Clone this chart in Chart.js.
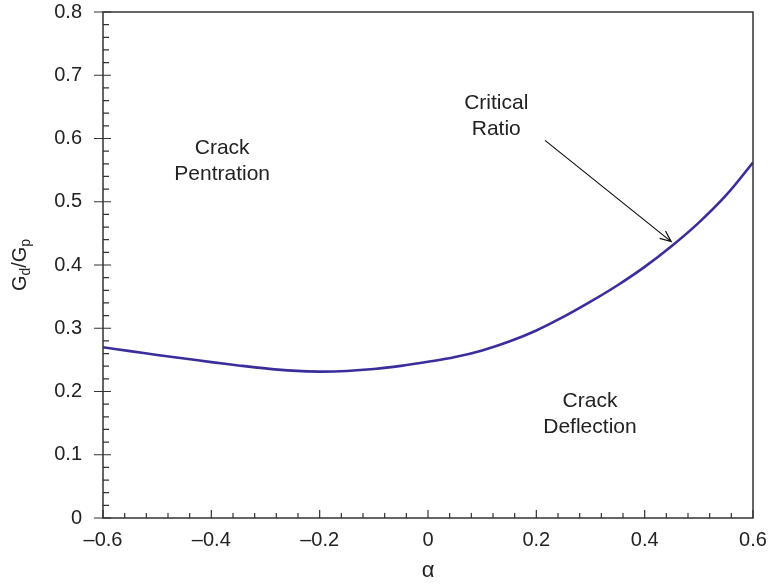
<!DOCTYPE html>
<html>
<head>
<meta charset="utf-8">
<script src="https://cdn.jsdelivr.net/npm/chart.js@4.4.1/dist/chart.umd.min.js"></script>
<style>
    html, body { margin: 0; padding: 0; background: #fff; }
    #wrap { width: 769px; height: 584px; }
</style>
</head>
<body>
<div id="wrap"><canvas id="ratioChart" width="769" height="584"></canvas></div>
<script>
// critical energy release rate ratio vs Dundurs alpha
const alphaValues = [-0.6, -0.55, -0.5, -0.45, -0.4, -0.35, -0.3, -0.25, -0.2, -0.15, -0.1, -0.05,
    0, 0.05, 0.1, 0.15, 0.2, 0.25, 0.3, 0.35, 0.4, 0.45, 0.5, 0.55, 0.6];
const ratioValues = [0.270, 0.2638, 0.2578, 0.2522, 0.2465, 0.2412, 0.2365, 0.2330, 0.2315, 0.2325, 0.2355, 0.2405,
    0.2470, 0.2545, 0.2650, 0.2790, 0.2965, 0.318, 0.342, 0.368, 0.397, 0.430, 0.467, 0.510, 0.562];

const xMinorTicks = [-0.56, -0.52, -0.48, -0.44, -0.36, -0.32, -0.28, -0.24, -0.16, -0.12, -0.08, -0.04,
    0.04, 0.08, 0.12, 0.16, 0.24, 0.28, 0.32, 0.36, 0.44, 0.48, 0.52, 0.56];
const yMinorTicks = [0.02, 0.04, 0.06, 0.08, 0.12, 0.14, 0.16, 0.18, 0.22, 0.24, 0.26, 0.28,
    0.32, 0.34, 0.36, 0.38, 0.42, 0.44, 0.46, 0.48, 0.52, 0.54, 0.56, 0.58,
    0.62, 0.64, 0.66, 0.68, 0.72, 0.74, 0.76, 0.78];

// region labels, in data coordinates
const notes = [
    {lines: ['Crack', 'Pentration'], x: -0.38, y: 0.585},
    {lines: ['Critical', 'Ratio'], x: 0.126, y: 0.656},
    {lines: ['Crack', 'Deflection'], x: 0.299, y: 0.185}
];
const arrowFrom = {x: 0.216, y: 0.597};
const arrowTo = {x: 0.449, y: 0.437};

const FONT = '"Liberation Sans", Arial, Helvetica, sans-serif';
const AXIS_COLOR = '#333333';

function fmtTick(v) {
    if (Math.abs(v) < 1e-9) return '0';
    let s = Math.abs(v).toFixed(1);
    return v < 0 ? '\u2013' + s : s;
}

const decorPlugin = {
    id: 'decor',
    afterDatasetsDraw(chart) {
        const {ctx, chartArea: a, scales: {x, y}} = chart;
        ctx.save();

        // frame
        ctx.strokeStyle = AXIS_COLOR;
        ctx.lineWidth = 1.5;
        ctx.strokeRect(a.left, a.top, a.right - a.left, a.bottom - a.top);

        ctx.lineWidth = 1.2;
        ctx.beginPath();
        // x major + minor ticks (inside only)
        x.ticks.forEach(t => {
            let px = x.getPixelForValue(t.value);
            ctx.moveTo(px, a.bottom);
            ctx.lineTo(px, a.bottom - 8);
        });
        xMinorTicks.forEach(v => {
            let px = x.getPixelForValue(v);
            ctx.moveTo(px, a.bottom);
            ctx.lineTo(px, a.bottom - 5);
        });
        // y major ticks (cross the axis) + minor (inside)
        y.ticks.forEach(t => {
            let py = y.getPixelForValue(t.value);
            ctx.moveTo(a.left - 9, py);
            ctx.lineTo(a.left + 8, py);
        });
        yMinorTicks.forEach(v => {
            let py = y.getPixelForValue(v);
            ctx.moveTo(a.left, py);
            ctx.lineTo(a.left + 6, py);
        });
        ctx.stroke();

        // notes
        ctx.fillStyle = '#222';
        ctx.font = '21px ' + FONT;
        ctx.textAlign = 'center';
        ctx.textBaseline = 'middle';
        notes.forEach(n => {
            let px = x.getPixelForValue(n.x);
            let py = y.getPixelForValue(n.y);
            n.lines.forEach((line, i) => ctx.fillText(line, px, py + i * 26));
        });

        // arrow
        let x0 = x.getPixelForValue(arrowFrom.x), y0 = y.getPixelForValue(arrowFrom.y);
        let x1 = x.getPixelForValue(arrowTo.x), y1 = y.getPixelForValue(arrowTo.y);
        let ang = Math.atan2(y1 - y0, x1 - x0);
        ctx.strokeStyle = '#111';
        ctx.lineWidth = 1.2;
        ctx.beginPath();
        ctx.moveTo(x0, y0);
        ctx.lineTo(x1, y1);
        ctx.moveTo(x1 - 12 * Math.cos(ang - 0.4), y1 - 12 * Math.sin(ang - 0.4));
        ctx.lineTo(x1, y1);
        ctx.lineTo(x1 - 12 * Math.cos(ang + 0.4), y1 - 12 * Math.sin(ang + 0.4));
        ctx.stroke();

        // x title
        ctx.font = '22px ' + FONT;
        ctx.fillStyle = '#222';
        ctx.fillText('\u03b1', (a.left + a.right) / 2, 571);

        // y title with subscripts
        ctx.translate(20, (a.top + a.bottom) / 2);
        ctx.rotate(-Math.PI / 2);
        let big = '20px ' + FONT, small = '14px ' + FONT;
        let parts = [['G', big, 0], ['d', small, 6], ['/G', big, 0], ['p', small, 6]];
        let total = 0;
        parts.forEach(p => { ctx.font = p[1]; total += ctx.measureText(p[0]).width; });
        let cx = -total / 2;
        ctx.textAlign = 'left';
        parts.forEach(p => {
            ctx.font = p[1];
            ctx.fillText(p[0], cx, p[2]);
            cx += ctx.measureText(p[0]).width;
        });

        ctx.restore();
    }
};

new Chart(document.getElementById('ratioChart'), {
    type: 'line',
    data: {
        labels: alphaValues,
        datasets: [{
            data: alphaValues.map((a, i) => ({x: a, y: ratioValues[i]})),
            borderColor: '#3a2d9c',
            borderWidth: 2.6,
            pointRadius: 0,
            tension: 0.4,
            fill: false
        }]
    },
    options: {
        responsive: false,
        animation: false,
        layout: {padding: {left: 0, right: 16, top: 12, bottom: 0}},
        scales: {
            x: {
                type: 'linear',
                min: -0.6,
                max: 0.6,
                border: {display: false},
                grid: {display: false, drawTicks: false},
                afterFit: s => {
                    s.height = 66;
                    s.paddingLeft = 0;
                    s.paddingRight = 0;
                },
                ticks: {
                    stepSize: 0.2,
                    padding: 10,
                    color: '#222',
                    font: {family: FONT, size: 20},
                    callback: v => fmtTick(v)
                }
            },
            y: {
                min: 0,
                max: 0.8,
                border: {display: false},
                grid: {display: false, drawTicks: false},
                afterFit: s => {
                    s.width = 103;
                    s.paddingTop = 0;
                    s.paddingBottom = 0;
                },
                ticks: {
                    stepSize: 0.1,
                    padding: 21,
                    color: '#222',
                    font: {family: FONT, size: 20},
                    callback: v => fmtTick(v)
                }
            }
        },
        plugins: {
            legend: {display: false},
            tooltip: {enabled: false}
        }
    },
    plugins: [decorPlugin]
});
</script>
</body>
</html>
